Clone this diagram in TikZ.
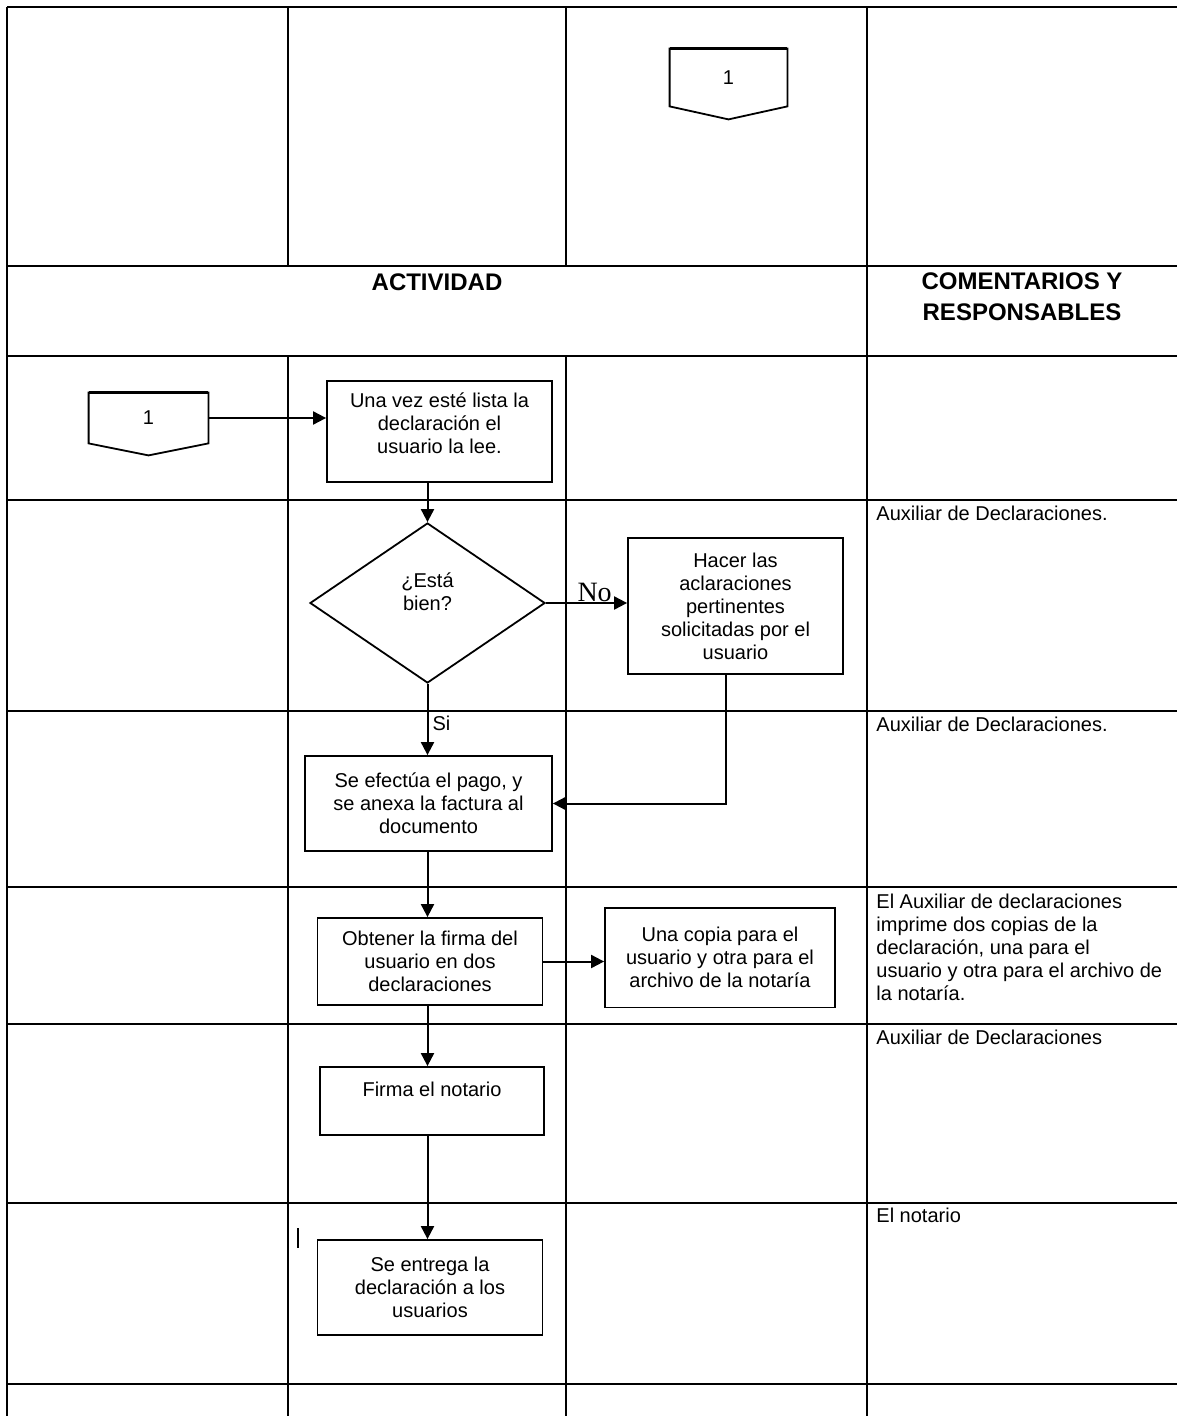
\documentclass[tikz,border=0pt]{standalone}
\usepackage{fontspec}
\setmainfont{Liberation Sans}
\newfontfamily\serifno{Liberation Serif}
\usetikzlibrary{shapes.geometric,arrows.meta,calc,positioning}

\begin{document}
\begin{tikzpicture}[x=0.5pt,y=-0.5pt,font=\fontsize{10}{11.5}\selectfont,
	grid/.style={line width=1.2pt},
	box/.style={draw,line width=0.9pt,align=center,inner sep=0pt},
	decision/.style={draw,diamond,line width=0.9pt,align=center,inner sep=0pt},
	offpage/.style={inner sep=0pt},
	arr/.style={line width=1pt,-{Triangle[length=6.5pt,width=6.5pt]}},
	comment/.style={anchor=north west,align=left,inner sep=0pt},
	head/.style={font=\fontsize{12}{15.5}\selectfont\bfseries,align=center,inner sep=0pt}]
	\useasboundingbox (0,0) rectangle (1177,1416);
	\draw[grid] (7,7) -- (1177,7);
	\draw[grid] (7,266) -- (1177,266);
	\draw[grid] (7,356) -- (1177,356);
	\draw[grid] (7,500) -- (1177,500);
	\draw[grid] (7,711) -- (1177,711);
	\draw[grid] (7,887) -- (1177,887);
	\draw[grid] (7,1024) -- (1177,1024);
	\draw[grid] (7,1203) -- (1177,1203);
	\draw[grid] (7,1384) -- (1177,1384);
	\draw[grid] (7,7) -- (7,1416);
	\draw[grid] (867,7) -- (867,1416);
	\draw[grid] (288,7) -- (288,266) (288,356) -- (288,1416);
	\draw[grid] (566,7) -- (566,266) (566,356) -- (566,1416);

	\node[head] (actividad) at (437,282.5) {ACTIVIDAD};
	\node[head] (comentarios) at (1022,297) {COMENTARIOS Y\\RESPONSABLES};

	\node[offpage,minimum width=58.5pt,minimum height=28.5pt] (conA) at (728.5,77.5) {1};
	\draw[line width=0.9pt] (conA.north west) -- (conA.north east) -- (conA.south east) -- ($(conA.south)+(0,13)$) -- (conA.south west) -- cycle;
	\draw[line width=1.4pt] (conA.north west) -- (conA.north east);
	\node[offpage,minimum width=59.5pt,minimum height=25pt] (conB) at (148.5,418) {1};
	\draw[line width=0.9pt] (conB.north west) -- (conB.north east) -- (conB.south east) -- ($(conB.south)+(0,12)$) -- (conB.south west) -- cycle;
	\draw[line width=1.4pt] (conB.north west) -- (conB.north east);

	\node[box,minimum width=112.5pt,minimum height=50.5pt] (lee) at (439.5,431.5) {Una vez esté lista la\\declaración el\\usuario la lee.\\[-3pt]\mbox{}};
	\node[decision,minimum width=117.5pt,minimum height=80pt] (dia) at (427.5,603) {¿Está\\bien?\\\mbox{}};
	\node[box,minimum width=107.5pt,minimum height=68pt] (hacer) at (735.5,606) {Hacer las\\aclaraciones\\pertinentes\\solicitadas por el\\usuario};
	\node[box,minimum width=123.5pt,minimum height=47.5pt] (pago) at (428.5,803.5) {Se efectúa el pago, y\\se anexa la factura al\\documento};
	\node[box,minimum width=112.5pt,minimum height=43.5pt] (firma) at (430,961.5) {Obtener la firma del\\usuario en dos\\declaraciones};
	\node[box,minimum width=115pt,minimum height=49.75pt] (copia) at (720,957.7) {Una copia para el\\usuario y otra para el\\archivo de la notaría};
	\node[box,minimum width=112pt,minimum height=34pt] (notario) at (432,1101) {Firma el notario\\\mbox{}};
	\node[box,minimum width=112.5pt,minimum height=47.5pt] (entrega) at (430,1287.5) {Se entrega la\\declaración a los\\usuarios};

	\draw[arr] (conB.east) -- (conB.east -| lee.west);
	\draw[arr] (lee.south -| dia.north) -- (dia.north);
	\draw[arr] (dia.east) -- node[pos=.6,above,inner sep=0pt,font=\serifno\fontsize{14}{14}\selectfont] (no) {No} (dia.east -| hacer.west);
	\draw[arr] (dia.south) -- node[pos=.56,right,inner sep=2pt] (si) {Si} (dia.south |- pago.north);
	\draw[arr] ($(hacer.south)+(-10,0)$) |- (pago.east);
	\draw[arr] (pago.south -| dia.south) -- (dia.south |- firma.north);
	\draw[arr] (firma.east) -- (firma.east -| copia.west);
	\draw[arr] (firma.south -| dia.south) -- (dia.south |- notario.north);
	\draw[arr] (notario.south -| dia.south) -- (dia.south |- entrega.north);
	\draw[line width=1pt] (298,1228) -- (298,1248);

	\node[comment] (c1) at (876,506) {Auxiliar de Declaraciones.};
	\node[comment] (c2) at (876,717) {Auxiliar de Declaraciones.};
	\node[comment] (c3) at (876,894) {El Auxiliar de declaraciones\\imprime dos copias de la\\declaración, una para el\\usuario y otra para el archivo de\\la notaría.};
	\node[comment] (c4) at (876,1030) {Auxiliar de Declaraciones};
	\node[comment] (c5) at (876,1208) {El notario};
\end{tikzpicture}
\end{document}
